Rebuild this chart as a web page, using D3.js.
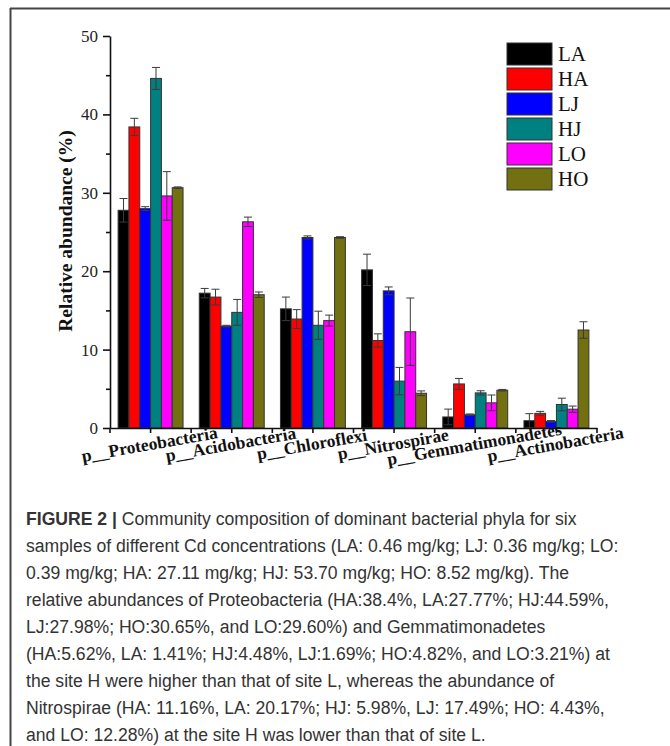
<!DOCTYPE html>
<html>
<head>
<meta charset="utf-8">
<script src="https://cdn.jsdelivr.net/npm/d3@7"></script>
<style>
  html, body { margin: 0; padding: 0; background: #fff; }
  svg { display: block; }
</style>
</head>
<body>
<svg id="chart" width="670" height="746"></svg>
<script>
// phyla on the x axis
const phyla = ["p__Proteobacteria", "p__Acidobacteria", "p__Chloroflexi",
  "p__Nitrospirae", "p__Gemmatimonadetes", "p__Actinobacteria"];

// samples (series)
const samples = ["LA", "HA", "LJ", "HJ", "LO", "HO"];
const colors = ["#000000", "#ff0000", "#0000ff", "#008080", "#ff00ff", "#737012"];

// mean relative abundance (%), one array per sample, in phyla order
const LA = [27.77, 17.2, 15.2, 20.17, 1.41, 0.93];
const HA = [38.4, 16.7, 13.9, 11.16, 5.62, 1.87];
const LJ = [27.98, 13.0, 24.3, 17.49, 1.69, 0.85];
const HJ = [44.59, 14.75, 13.1, 5.98, 4.48, 3.0];
const LO = [29.6, 26.3, 13.7, 12.28, 3.21, 2.4];
const HO = [30.65, 17.0, 24.3, 4.43, 4.82, 12.5];

// error bars (sd)
const LAerr = [1.5, 0.6, 1.5, 2.0, 1.0, 0.9];
const HAerr = [1.1, 1.0, 1.2, 0.85, 0.7, 0.25];
const LJerr = [0.25, 0.1, 0.2, 0.5, 0.1, 0.1];
const HJerr = [1.4, 1.65, 1.8, 1.75, 0.27, 0.8];
const LOerr = [3.1, 0.6, 0.7, 4.3, 1.0, 0.4];
const HOerr = [0.1, 0.35, 0.1, 0.3, 0.1, 1.05];

const yTicks = [0, 10, 20, 30, 40, 50];
const yMinor = [5, 15, 25, 35, 45];

const caption = [
  "samples of different Cd concentrations (LA: 0.46 mg/kg; LJ: 0.36 mg/kg; LO:",
  "0.39 mg/kg; HA: 27.11 mg/kg; HJ: 53.70 mg/kg; HO: 8.52 mg/kg). The",
  "relative abundances of Proteobacteria (HA:38.4%, LA:27.77%; HJ:44.59%,",
  "LJ:27.98%; HO:30.65%, and LO:29.60%) and Gemmatimonadetes",
  "(HA:5.62%, LA: 1.41%; HJ:4.48%, LJ:1.69%; HO:4.82%, and LO:3.21%) at",
  "the site H were higher than that of site L, whereas the abundance of",
  "Nitrospirae (HA: 11.16%, LA: 20.17%; HJ: 5.98%, LJ: 17.49%; HO: 4.43%,",
  "and LO: 12.28%) at the site H was lower than that of site L."
];

const means = { LA, HA, LJ, HJ, LO, HO };
const errs = { LA: LAerr, HA: HAerr, LJ: LJerr, HJ: HJerr, LO: LOerr, HO: HOerr };

const data = [];
phyla.forEach((p, i) => {
  samples.forEach((s) => {
    data.push({ phylum: p, sample: s, value: means[s][i], err: errs[s][i] });
  });
});

const svg = d3.select("#chart");
const serif = "'Liberation Serif', 'Times New Roman', serif";

// frame lines of the figure panel
svg.append("line").attr("x1", 10).attr("x2", 670).attr("y1", 8.5).attr("y2", 8.5)
  .attr("stroke", "#444").attr("stroke-width", 2);
svg.append("line").attr("x1", 10.5).attr("x2", 10.5).attr("y1", 8).attr("y2", 746)
  .attr("stroke", "#444").attr("stroke-width", 2);

const x0 = d3.scaleBand().domain(phyla).range([110, 597])
  .paddingInner(0.2).paddingOuter(0.1);
const x1 = d3.scaleBand().domain(samples).range([0, x0.bandwidth()]);
const y = d3.scaleLinear().domain([0, 50]).range([428, 36]);
const color = d3.scaleOrdinal().domain(samples).range(colors);

// bars
svg.append("g").selectAll("rect")
  .data(data)
  .enter()
  .append("rect")
  .attr("x", (d) => x0(d.phylum) + x1(d.sample))
  .attr("y", (d) => y(d.value))
  .attr("width", x1.bandwidth())
  .attr("height", (d) => y(0) - y(d.value))
  .attr("fill", (d) => color(d.sample))
  .attr("stroke", "#333")
  .attr("stroke-width", 1);

// error bars
const eb = svg.append("g").attr("stroke", "#3a3a3a").attr("stroke-width", 1);
data.forEach((d) => {
  const cx = x0(d.phylum) + x1(d.sample) + x1.bandwidth() / 2;
  const top = y(d.value + d.err);
  const bot = y(Math.max(0, d.value - d.err));
  eb.append("line").attr("x1", cx).attr("x2", cx).attr("y1", top).attr("y2", bot);
  eb.append("line").attr("x1", cx - 4).attr("x2", cx + 4).attr("y1", top).attr("y2", top);
  eb.append("line").attr("x1", cx - 4).attr("x2", cx + 4).attr("y1", bot).attr("y2", bot);
});

// y axis
const yAxisG = svg.append("g").attr("transform", "translate(110,0)")
  .call(d3.axisLeft(y).tickValues(yTicks).tickSize(7).tickPadding(5).tickSizeOuter(0));
yAxisG.selectAll(".tick text")
  .attr("font-family", serif).attr("font-size", 17).attr("fill", "#222");
svg.append("g").attr("transform", "translate(110,0)")
  .call(d3.axisLeft(y).tickValues(yMinor).tickSize(4).tickFormat("").tickSizeOuter(0))
  .select(".domain").remove();
svg.selectAll(".domain, .tick line").attr("stroke", "#111").attr("stroke-width", 1.6);

// x axis: ticks at group centres plus group boundaries
const xAxisG = svg.append("g").attr("transform", "translate(0,428)")
  .call(d3.axisBottom(x0).tickSize(5).tickFormat("").tickSizeOuter(0));
const bounds = phyla.map((p) => x0(p) - x0.step() * 0.1).concat([597]);
xAxisG.selectAll(".bound")
  .data(bounds)
  .enter()
  .append("line")
  .attr("x1", (d) => d).attr("x2", (d) => d)
  .attr("y1", 0).attr("y2", 5);
xAxisG.selectAll(".domain, line").attr("stroke", "#111").attr("stroke-width", 1.6);

svg.append("g").selectAll("text")
  .data(phyla)
  .enter()
  .append("text")
  .attr("transform", (d) => `translate(${x0(d) + x0.bandwidth() / 2},450) rotate(-10)`)
  .attr("text-anchor", "middle")
  .attr("font-family", serif)
  .attr("font-weight", "bold")
  .attr("font-size", 17.5)
  .attr("fill", "#111")
  .text((d) => d);

// y label
svg.append("text")
  .attr("transform", "translate(72,231) rotate(-90)")
  .attr("text-anchor", "middle")
  .attr("font-family", serif)
  .attr("font-weight", "bold")
  .attr("font-size", 19.5)
  .attr("fill", "#111")
  .text("Relative abundance (%)");

// legend
const legend = svg.append("g").selectAll("g")
  .data(samples)
  .enter()
  .append("g")
  .attr("transform", (d, i) => `translate(507,${43 + i * 25})`);
legend.append("rect")
  .attr("width", 45).attr("height", 22)
  .attr("fill", (d) => color(d))
  .attr("stroke", "#333").attr("stroke-width", 1);
legend.append("text")
  .attr("x", 51).attr("y", 18)
  .attr("font-family", serif).attr("font-size", 21).attr("fill", "#111")
  .text((d) => d);

// caption
const sans = "'Liberation Sans', Arial, sans-serif";
const cap = svg.append("g").attr("font-family", sans).attr("font-size", 17.6).attr("fill", "#333");
const first = cap.append("text").attr("x", 26).attr("y", 525);
first.append("tspan").attr("font-weight", "bold").text("FIGURE 2 | ");
first.append("tspan").text("Community composition of dominant bacterial phyla for six");
cap.selectAll(".line")
  .data(caption)
  .enter()
  .append("text")
  .attr("x", 26)
  .attr("y", (d, i) => 552 + i * 27)
  .text((d) => d);
</script>
</body>
</html>
